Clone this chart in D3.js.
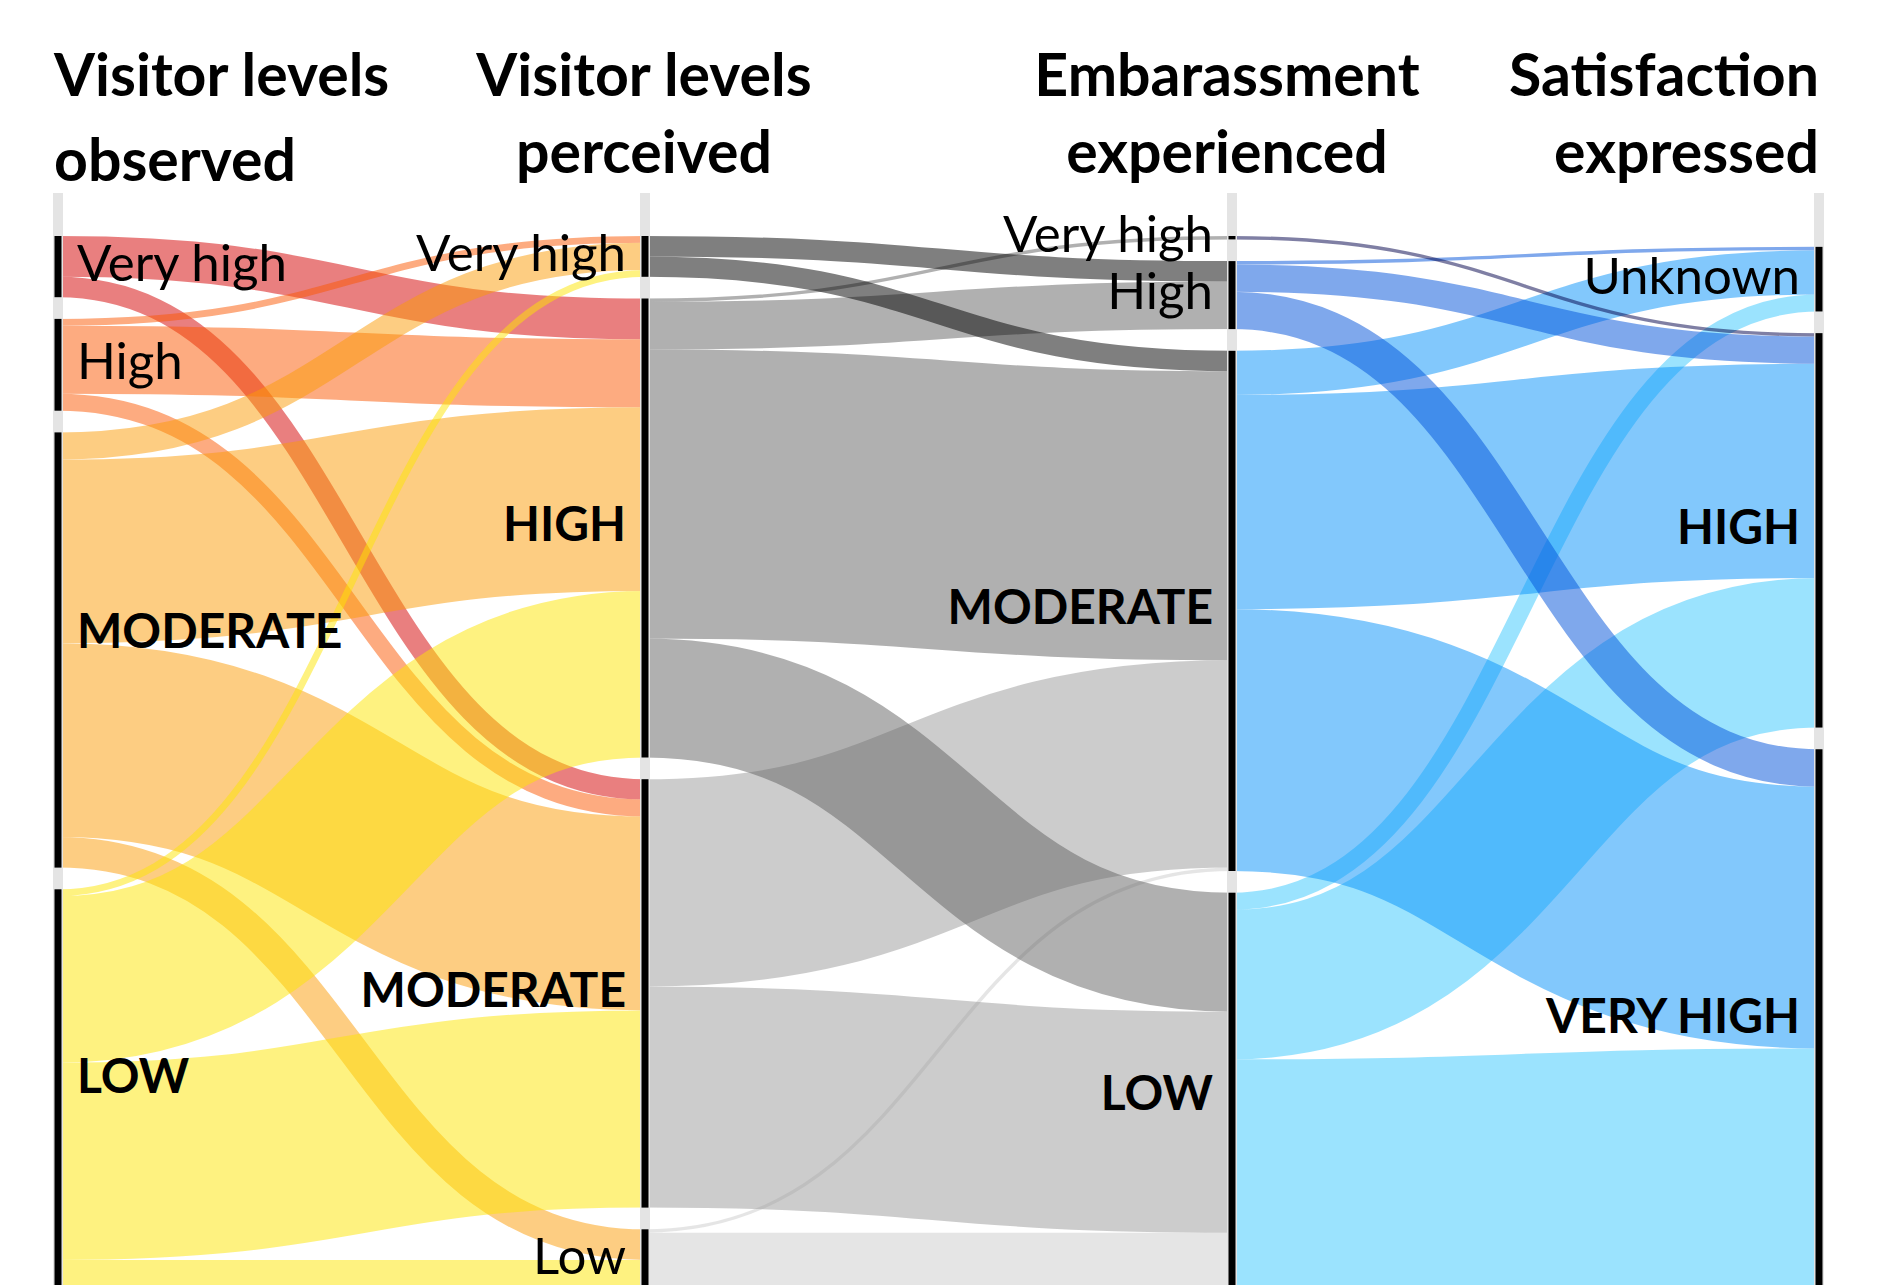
<!DOCTYPE html>
<html><head><meta charset="utf-8">
<script src="https://cdn.jsdelivr.net/npm/d3@7"></script>
<style>
html,body{margin:0;padding:0;background:#fff;}
svg{display:block;font-family:Lato,"Open Sans",sans-serif;}
</style></head><body>
<svg id="chart" width="1890" height="1285"></svg>
<script>
// ---------- DATA ----------
const dimensionTitles = [
  ["Visitor levels", "observed"],
  ["Visitor levels", "perceived"],
  ["Embarassment", "experienced"],
  ["Satisfaction", "expressed"]
];
const observedCategories = ["Very high", "High", "MODERATE", "LOW"];
const perceivedCategories = ["Very high", "HIGH", "MODERATE", "Low"];
const embarassmentCategories = ["Very high", "High", "MODERATE", "LOW"];
const satisfactionCategories = ["Unknown", "HIGH", "VERY HIGH"];

// respondents flowing between categories (rows: from, columns: to)
const observedToPerceived = [
  [0, 12, 6, 0],
  [2, 20, 5, 0],
  [8, 54, 57, 9],
  [2, 49, 58, 12]
];
const perceivedToEmbarassment = [
  [0, 6, 6, 0],
  [1, 14, 85, 35],
  [0, 0, 61, 65],
  [0, 0, 1, 20]
];
const embarassmentToSatisfaction = [
  [0, 1, 0],
  [1, 8, 11],
  [13, 63, 77],
  [5, 44, 71]
];

// link colours (drawn at half opacity), by source category
const observedColors = ["#d40000", "#fb5701", "#fb9b05", "#fde501"];
const perceivedColors = ["#000000", "#616161", "#999999", "#cbcbcb"];
const embarassmentColors = ["#00004a", "#0051d9", "#0591f9", "#37c7fd"];

// ---------- LAYOUT ----------
const dims = [observedCategories, perceivedCategories, embarassmentCategories, satisfactionCategories];
const flows = [observedToPerceived, perceivedToEmbarassment, embarassmentToSatisfaction];
const stageColors = [observedColors, perceivedColors, embarassmentColors];
const drawTopFirst = [false, true, true]; // stacking order of links per stage

const svg = d3.select("#chart");
const W = 1890, H = 1285;

const totals = dims.map((cats, d) => cats.map((c, i) =>
  d < flows.length ? d3.sum(flows[d][i]) : d3.sum(flows[d - 1], r => r[i])));
const N = d3.sum(totals[0]);
const maxCats = d3.max(dims, c => c.length);
const gap = 21.7;
const yTop = 236;
const unitPx = 3.4;
const yBottom = yTop + N * unitPx + (maxCats - 1) * gap;
const unit = d3.scaleLinear().domain([0, N]).range([0, (yBottom - yTop) - (maxCats - 1) * gap]);
const x = d3.scalePoint().domain(d3.range(dims.length)).range([58, 1819]);

const nodes = dims.map((cats, d) => {
  const span = unit(N) + (cats.length - 1) * gap;
  let y = yTop + ((yBottom - yTop) - span) / 2;
  return cats.map((name, i) => {
    const n = {d, i, name, y0: y, y1: y + unit(totals[d][i])};
    y = n.y1 + gap;
    return n;
  });
});

// links
const links = [];
flows.forEach((m, s) => {
  const srcOff = nodes[s].map(n => n.y0);
  const tgtOff = nodes[s + 1].map(n => n.y0);
  const list = [];
  m.forEach((row, i) => row.forEach((v, j) => { if (v > 0) list.push({s, i, j, v}); }));
  list.forEach(r => { r.a0 = srcOff[r.i]; r.a1 = r.a0 + unit(r.v); srcOff[r.i] = r.a1; });
  list.slice().sort((p, q) => p.j - q.j || p.i - q.i).forEach(r => {
    r.b0 = tgtOff[r.j]; r.b1 = r.b0 + unit(r.v); tgtOff[r.j] = r.b1;
  });
  list.sort((p, q) => drawTopFirst[s] ? (q.i - p.i) : (p.i - q.i));
  list.forEach(r => links.push(r));
});

const linkGen = d3.linkHorizontal()
  .source(r => [x(r.s), (r.a0 + r.a1) / 2])
  .target(r => [x(r.s + 1), (r.b0 + r.b1) / 2]);

svg.append("rect").attr("width", W).attr("height", H).attr("fill", "#fff");

svg.append("g").attr("fill", "none").selectAll("path").data(links).join("path")
  .attr("d", linkGen)
  .attr("stroke", r => stageColors[r.s][r.i])
  .attr("stroke-opacity", 0.5)
  .attr("stroke-width", r => unit(r.v));

// axes
const axisG = svg.append("g");
axisG.selectAll("line").data(dims).join("line")
  .attr("x1", (c, d) => x(d)).attr("x2", (c, d) => x(d))
  .attr("y1", 193).attr("y2", H + 20)
  .attr("stroke", "#e4e4e4").attr("stroke-width", 10);
axisG.selectAll("rect").data(nodes.flat()).join("rect")
  .attr("x", n => x(n.d) - 3.5).attr("width", 7)
  .attr("y", n => n.y0).attr("height", n => Math.max(1, n.y1 - n.y0))
  .attr("fill", "#000");

// category labels
const isBold = n => n.name === n.name.toUpperCase();
const labelSize = n => isBold(n) ? 48 : 51;
const labelNudge = n => (n.d === 0 && isBold(n)) ? -19 : -4;
svg.append("g").selectAll("text").data(nodes.flat()).join("text")
  .attr("x", n => n.d === 0 ? x(n.d) + 19 : x(n.d) - 19)
  .attr("y", n => Math.min((n.y0 + n.y1) / 2 + labelNudge(n), H - 0.58 * labelSize(n)))
  .attr("dy", "0.36em")
  .attr("text-anchor", n => n.d === 0 ? "start" : "end")
  .attr("font-size", labelSize)
  .attr("font-weight", n => isBold(n) ? 700 : 400)
  .attr("fill", "#000")
  .text(n => n.name);

// dimension titles
const titleAnchor = ["start", "middle", "middle", "end"];
const titleShift = [-4, -1, -5, 0];
const titleG = svg.append("g").attr("font-weight", 700).attr("font-size", 59).attr("fill", "#000");
dimensionTitles.forEach((lines, d) => {
  lines.forEach((t, k) => {
    titleG.append("text")
      .attr("x", x(d) + titleShift[d])
      .attr("y", k === 0 ? 96 : (d === 0 ? 181 : 173))
      .attr("text-anchor", titleAnchor[d])
      .text(t);
  });
});
</script>
</body></html>
